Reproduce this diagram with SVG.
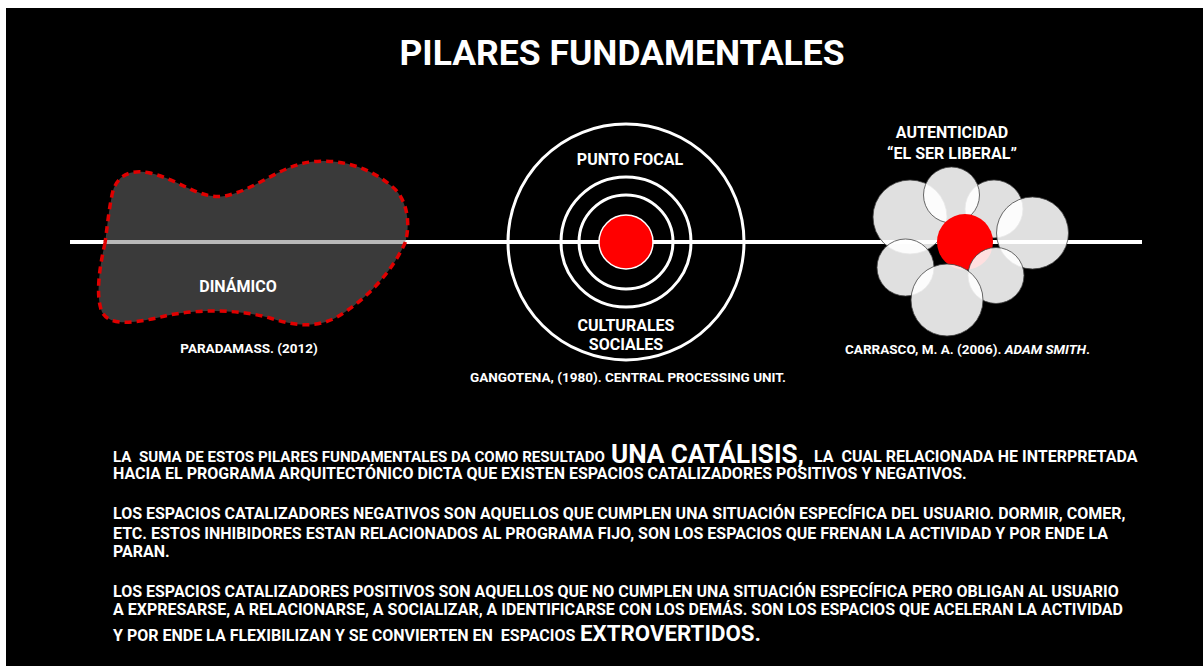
<svg xmlns="http://www.w3.org/2000/svg" width="1203" height="666" viewBox="0 0 1203 666">
<style>
.t{font-family:Roboto,"Liberation Sans",Arial,sans-serif;font-weight:700;fill:#fff}
.lbl{font-size:16px;text-anchor:middle}
.ref{font-size:13.5px}
.p{font-size:16px}
.ring{fill:none;stroke:#fff;stroke-width:3}
.bub{fill:#fff;fill-opacity:0.88;stroke:#444;stroke-width:0.8}
</style>
<rect x="0" y="0" width="1203" height="666" fill="#fff"/>
<rect x="6" y="8" width="1197" height="658" fill="#000"/>
<text class="t" x="622" y="65" font-size="35.5" text-anchor="middle">PILARES FUNDAMENTALES</text>
<g id="connectors">
<line x1="70" y1="242" x2="1142" y2="242" stroke="#fff" stroke-width="4"/>
</g>
<g id="dinamico">
<path d="M105,243 C100,265 95,295 102,312 C110,328 140,322 165,316 C190,310 235,308 270,318 C295,326 320,330 345,312 C375,292 395,265 405,243 C412,220 405,195 390,185 C370,168 340,158 310,162 C280,166 255,190 225,196 C200,200 180,180 150,173 C125,168 115,180 112,195 C108,215 107,230 105,243 Z" fill="#737373" fill-opacity="0.5" stroke="#e00000" stroke-width="3.5" stroke-dasharray="7 5"/>
<text class="t lbl" x="238" y="292">DINÁMICO</text>
<text class="t ref" x="249" y="353" text-anchor="middle">PARADAMASS. (2012)</text>
</g>
<g id="punto-focal">
<circle class="ring" cx="626" cy="242" r="118"/>
<circle class="ring" cx="626" cy="242" r="65"/>
<circle class="ring" cx="626" cy="242" r="47"/>
<circle cx="626" cy="242" r="27" fill="#f00" stroke="#fff" stroke-width="1.5"/>
<text class="t lbl" x="630" y="165">PUNTO FOCAL</text>
<text class="t lbl" x="626" y="331">CULTURALES</text>
<text class="t lbl" x="626" y="350">SOCIALES</text>
<text class="t ref" x="628" y="382" text-anchor="middle">GANGOTENA, (1980). CENTRAL PROCESSING UNIT.</text>
</g>
<g id="autenticidad">
<circle class="bub" cx="910" cy="217" r="37"/>
<circle class="bub" cx="994" cy="209" r="29"/>
<circle class="bub" cx="951.5" cy="195" r="28"/>
<circle class="bub" cx="1032.5" cy="233" r="36"/>
<circle class="bub" cx="905.5" cy="267.5" r="28.5"/>
<circle cx="965" cy="242" r="28" fill="#f00"/>
<circle class="bub" cx="996" cy="275.5" r="28"/>
<circle class="bub" cx="947" cy="300" r="36"/>
<text class="t lbl" x="952" y="138">AUTENTICIDAD</text>
<text class="t lbl" x="952" y="159">“EL SER LIBERAL”</text>
<text class="t ref" x="845" y="354">CARRASCO, M. A. (2006). <tspan font-style="italic">ADAM SMITH</tspan>.</text>
</g>
<g id="texto">
<text class="t" x="113" y="462" font-size="15.5" textLength="492" lengthAdjust="spacingAndGlyphs" xml:space="preserve">LA  SUMA DE ESTOS PILARES FUNDAMENTALES DA COMO RESULTADO</text>
<text class="t" x="611" y="463" font-size="25" textLength="193" lengthAdjust="spacingAndGlyphs">UNA CATÁLISIS,</text>
<text class="t p" x="814" y="462" xml:space="preserve">LA  CUAL RELACIONADA HE INTERPRETADA</text>
<text class="t p" x="113" y="479">HACIA EL PROGRAMA ARQUITECTÓNICO DICTA QUE EXISTEN ESPACIOS CATALIZADORES POSITIVOS Y NEGATIVOS.</text>
<text class="t p" x="113" y="519">LOS ESPACIOS CATALIZADORES NEGATIVOS SON AQUELLOS QUE CUMPLEN UNA SITUACIÓN ESPECÍFICA DEL USUARIO. DORMIR, COMER,</text>
<text class="t p" x="113" y="539">ETC. ESTOS INHIBIDORES ESTAN RELACIONADOS AL PROGRAMA FIJO, SON LOS ESPACIOS QUE FRENAN LA ACTIVIDAD Y POR ENDE LA</text>
<text class="t p" x="113" y="557">PARAN.</text>
<text class="t p" x="113" y="597">LOS ESPACIOS CATALIZADORES POSITIVOS SON AQUELLOS QUE NO CUMPLEN UNA SITUACIÓN ESPECÍFICA PERO OBLIGAN AL USUARIO</text>
<text class="t p" x="113" y="615">A EXPRESARSE, A RELACIONARSE, A SOCIALIZAR, A IDENTIFICARSE CON LOS DEMÁS. SON LOS ESPACIOS QUE ACELERAN LA ACTIVIDAD</text>
<text class="t p" x="113" y="641" xml:space="preserve">Y POR ENDE LA FLEXIBILIZAN Y SE CONVIERTEN EN  ESPACIOS</text>
<text class="t" x="580" y="641" font-size="22" textLength="181" lengthAdjust="spacingAndGlyphs">EXTROVERTIDOS.</text>
</g>
</svg>
